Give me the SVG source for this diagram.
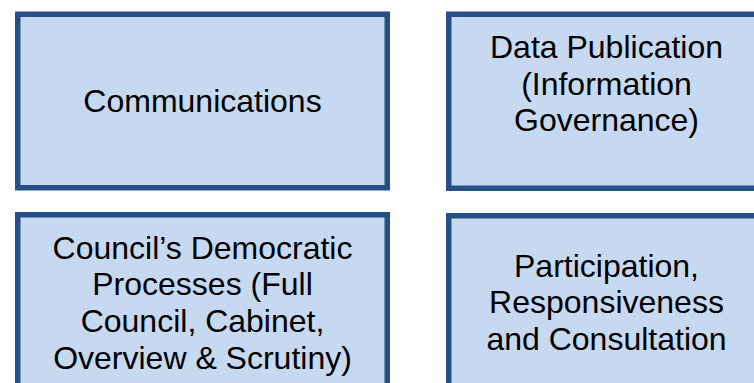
<svg xmlns="http://www.w3.org/2000/svg" width="754" height="383" viewBox="0 0 754 383">
<style>
.box{fill:#C6D9F1;stroke:#264F86;stroke-width:5.5}
.t{font-family:"Liberation Sans",Arial,sans-serif;font-size:32px;fill:#000;text-anchor:middle}
</style>
<rect width="754" height="383" fill="#FFFFFF"/>
<g id="connectors"/>
<g id="communications">
<rect class="box" x="17.75" y="14.25" width="369.5" height="173.5"/>
<text class="t" x="202.5" y="112">Communications</text>
</g>
<g id="data-publication">
<rect class="box" x="448.75" y="14.25" width="340" height="174"/>
<text class="t" x="606.5" y="57.5">Data Publication</text>
<text class="t" x="606.5" y="94.5">(Information</text>
<text class="t" x="606.5" y="131">Governance)</text>
</g>
<g id="democratic-processes">
<rect class="box" x="17.75" y="214.75" width="369.5" height="200"/>
<text class="t" x="202.5" y="258.5">Council’s Democratic</text>
<text class="t" x="202.5" y="295">Processes (Full</text>
<text class="t" x="202.5" y="332">Council, Cabinet,</text>
<text class="t" x="202.5" y="368.5">Overview &amp; Scrutiny)</text>
</g>
<g id="participation">
<rect class="box" x="448.75" y="215.75" width="340" height="200"/>
<text class="t" x="606.5" y="277">Participation,</text>
<text class="t" x="606.5" y="313">Responsiveness</text>
<text class="t" x="606.5" y="349.5">and Consultation</text>
</g>
</svg>
